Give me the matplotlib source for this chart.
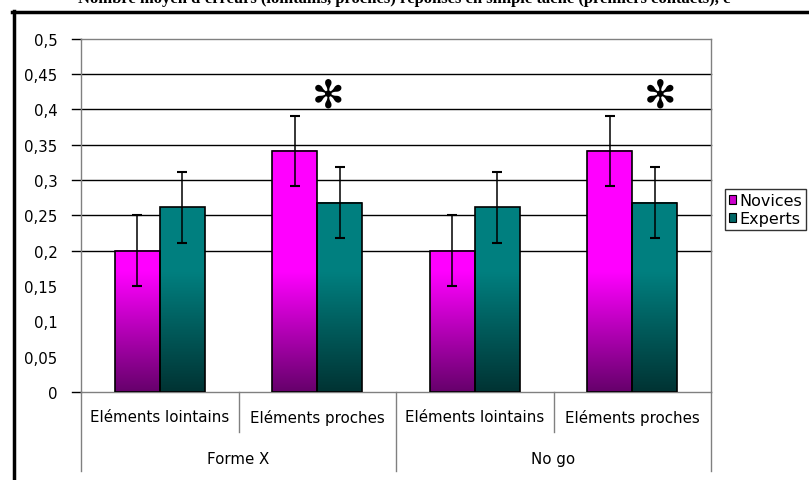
import numpy as np
import matplotlib
matplotlib.use("Agg")
import matplotlib.pyplot as plt
import matplotlib.transforms as mtransforms
from matplotlib.patches import Rectangle
from matplotlib.lines import Line2D

# data
categories = ["Eléments lointains", "Eléments proches", "Eléments lointains", "Eléments proches"]
groups = ["Forme X", "No go"]
novices = [0.200, 0.341, 0.200, 0.341]
experts = [0.261, 0.268, 0.261, 0.268]
err_novices = [0.05, 0.05, 0.05, 0.05]
err_experts = [0.05, 0.05, 0.05, 0.05]
star_x = [1.07, 3.18]  # where the significance stars sit
star_y = [0.42, 0.42]
yticks = [0, 0.05, 0.1, 0.15, 0.2, 0.25, 0.3, 0.35, 0.4, 0.45, 0.5]
ytick_labels = ["0", "0,05", "0,1", "0,15", "0,2", "0,25", "0,3", "0,35", "0,4", "0,45", "0,5"]
grid_levels = [0.2, 0.25, 0.3, 0.35, 0.4, 0.45]

plt.rcParams['font.family'] = ['DejaVu Sans']
fs = 10.8

W, H = 809, 481
fig = plt.figure(figsize=(W / 100, H / 100), dpi=100)
ax = fig.add_axes([81 / W, (H - 393) / H, 630 / W, (393 - 39.5) / H])

# gradient colours (bright at top, dark at bottom)
nov_top = np.array([1.0, 0.0, 1.0]); nov_bot = np.array([0.40, 0.0, 0.42])
exp_top = np.array([0.0, 0.50, 0.50]); exp_bot = np.array([0.0, 0.20, 0.20])
full_at = 0.17  # value where the gradient reaches the bright colour

def grad_bar(x0, w, h, top, bot):
    yy = np.linspace(0, h, 200)
    t = np.clip(yy / full_at, 0, 1)[:, None]
    img = bot * (1 - t) + top * t
    img = img[::-1][:, None, :]
    ax.imshow(img, extent=[x0, x0 + w, 0, h], aspect='auto', interpolation='bilinear', zorder=2)
    ax.add_patch(Rectangle((x0, 0), w, h, fill=False, edgecolor='black', lw=1.2, zorder=3))

bw = 45 / 157.5
x = np.arange(len(categories))
for i in range(len(categories)):
    grad_bar(x[i] - bw, bw, novices[i], nov_top, nov_bot)
    grad_bar(x[i], bw, experts[i], exp_top, exp_bot)

ax.errorbar(x - bw / 2, novices, yerr=err_novices, fmt='none', ecolor='black', elinewidth=1.1,
            capsize=3.6, capthick=1.5, zorder=4)
ax.errorbar(x + bw / 2, experts, yerr=err_experts, fmt='none', ecolor='black', elinewidth=1.1,
            capsize=3.6, capthick=1.5, zorder=4)

for sx, sy in zip(star_x, star_y):
    ax.text(sx, sy, "\u273B", ha='center', va='center', fontsize=28,
            fontweight='bold', zorder=5)

ax.set_xlim(-0.5, len(categories) - 0.5)
ax.set_ylim(0, 0.5)
ax.set_yticks(yticks)
ax.set_yticklabels(ytick_labels, fontsize=fs)
ax.tick_params(axis='y', length=0, pad=17)
ax.set_xticks([])
for s in ax.spines.values():
    s.set_color('#808080')
    s.set_linewidth(1)

# gridlines with their outer tick marks
tr = mtransforms.blended_transform_factory(ax.transAxes, ax.transData)
for g in grid_levels:
    ax.plot([-0.014, 1], [g, g], color='black', lw=1, transform=tr, clip_on=False, zorder=1)
for g in [0, 0.5]:
    ax.plot([-0.014, 0], [g, g], color='black', lw=1, transform=tr, clip_on=False, zorder=1)

# two-level category axis
trx = mtransforms.blended_transform_factory(ax.transData, ax.transAxes)
for i, c in enumerate(categories):
    ax.text(x[i], -0.0707, c, transform=trx, ha='center', va='center', fontsize=fs)
for j, g in enumerate(groups):
    ax.text(2 * j + 0.5, -0.187, g, transform=trx, ha='center', va='center', fontsize=fs)
for b in [0.5, 2.5]:
    ax.add_line(Line2D([b, b], [0, -0.113], transform=trx, color='#808080', lw=1, clip_on=False))
for b in [-0.5, 1.5, 3.5]:
    ax.add_line(Line2D([b, b], [0, -0.2235], transform=trx, color='#808080', lw=1, clip_on=False))

# legend (its right edge runs past the picture, as in the reference)
handles = [Rectangle((0, 0), 1, 1, facecolor='#CC00CC', edgecolor='black', lw=0.8),
           Rectangle((0, 0), 1, 1, facecolor='#006666', edgecolor='black', lw=0.8)]
leg = fig.legend(handles, ["Novices", "Experts"], loc='upper left',
                 bbox_to_anchor=(725 / W, 1 - 190 / H), fontsize=11.5,
                 handlelength=0.45, handleheight=0.45, handletextpad=0.2,
                 borderpad=0.25, borderaxespad=0, labelspacing=0.2, fancybox=False)
leg.get_frame().set_edgecolor('black')
leg.get_frame().set_linewidth(1)

# outer frame (only left and top edges fall inside the picture)
fig.add_artist(Line2D([13.5 / W, 13.5 / W], [0, 1 - 12 / H], color='black', lw=2.5,
                      transform=fig.transFigure))
fig.add_artist(Line2D([12 / W, 1], [1 - 13 / H, 1 - 13 / H], color='black', lw=2.5,
                      transform=fig.transFigure))

# clipped title line of the document above the chart
fig.text(0.5, 1 - 3 / H, "Nombre moyen d'erreurs (lointains, proches) réponses en simple tâche (premiers contacts), c",
         ha='center', va='baseline', fontsize=12, fontweight='bold', family=['Liberation Serif'])

fig.savefig("out.png", dpi=100)
